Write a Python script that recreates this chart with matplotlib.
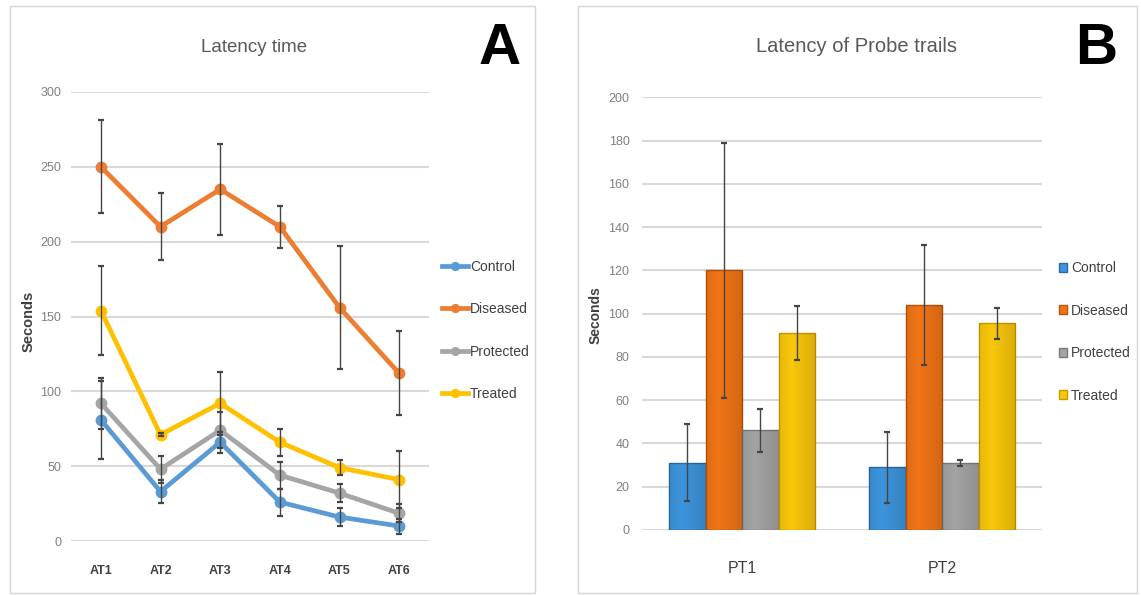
import numpy as np
import matplotlib
matplotlib.use("Agg")
import matplotlib.pyplot as plt
import matplotlib.font_manager as fm
from matplotlib.patches import Rectangle
from matplotlib.patches import Patch

# ---------------- data ----------------
series = ["Control", "Diseased", "Protected", "Treated"]

a_categories = ["AT1", "AT2", "AT3", "AT4", "AT5", "AT6"]
a_control = [81, 33, 66, 26, 16, 10]
a_control_err = [26, 7.5, 7, 9, 6, 5]
a_diseased = [250, 210, 235, 210, 156, 112]
a_diseased_err = [31, 22.5, 30.5, 14, 41, 28]
a_protected = [92, 48, 74, 44, 32, 18.5]
a_protected_err = [17, 9, 12, 9, 6, 6]
a_treated = [154, 71, 92, 66, 49, 41]
a_treated_err = [30, 1, 21, 9, 5, 19]

b_categories = ["PT1", "PT2"]
b_control = [31, 29]
b_control_err = [17.8, 16.5]
b_diseased = [120, 104]
b_diseased_err = [59, 27.7]
b_protected = [46, 31]
b_protected_err = [10, 1.5]
b_treated = [91, 95.5]
b_treated_err = [12.5, 7]

a_yticks = [0, 50, 100, 150, 200, 250, 300]
b_yticks = list(range(0, 201, 20))

# ---------------- fonts ----------------
names = {f.name for f in fm.fontManager.ttflist}
NARROW = "Liberation Sans Narrow" if "Liberation Sans Narrow" in names else "Liberation Sans"
plt.rcParams["font.family"] = [NARROW, "DejaVu Sans"]

W, H = 1141, 596
fig = plt.figure(figsize=(W / 100, H / 100), dpi=100)
fig.patch.set_facecolor("white")

def fx(px):
    return px / W

def fy(py):
    return 1 - py / H

# panel borders
for x0, x1 in [(10, 535), (578, 1137)]:
    fig.patches.append(Rectangle((fx(x0), fy(593)), fx(x1 - x0), (593 - 6) / H,
                                 transform=fig.transFigure, fill=False,
                                 edgecolor="#d4d4d4", linewidth=1.0))

line_colors = ["#5b9bd5", "#ed7d31", "#a5a5a5", "#ffc000"]
bar_colors = ["#3d94dc", "#f07416", "#a3a3a3", "#f8c60a"]
bar_edges = ["#2a6aa8", "#b9540c", "#7a7a7a", "#c99a00"]
err_color = "#454545"
grid_color = "#d9d9d9"
tick_gray = "#808080"
label_dark = "#404040"

# ---------------- panel A ----------------
axA = fig.add_axes([fx(71), fy(541), fx(429 - 71), (541 - 92) / H])
xA = np.arange(len(a_categories))
a_vals = [a_control, a_diseased, a_protected, a_treated]
a_errs = [a_control_err, a_diseased_err, a_protected_err, a_treated_err]
for i, (v, e) in enumerate(zip(a_vals, a_errs)):
    axA.plot(xA, v, "-o", color=line_colors[i], lw=3.4, ms=7.5, zorder=3 + i * 0.1,
             clip_on=False, label=series[i])
for i, (v, e) in enumerate(zip(a_vals, a_errs)):
    axA.errorbar(xA, v, yerr=e, fmt="none", ecolor=err_color, elinewidth=1.0,
                 capsize=2.2, capthick=1.6, zorder=5, clip_on=False)
axA.set_xlim(-0.5, len(a_categories) - 0.5)
axA.set_ylim(0, 300)
axA.set_yticks(a_yticks)
axA.set_xticks(xA)
axA.set_xticklabels(a_categories, fontsize=9, color=label_dark, fontweight="bold")
axA.tick_params(axis="y", length=0, pad=7, labelsize=9, labelcolor=tick_gray)
axA.tick_params(axis="x", length=0, pad=17)
axA.yaxis.grid(True, color=grid_color, lw=1.5)
axA.set_axisbelow(True)
for s in axA.spines.values():
    s.set_visible(False)
axA.set_ylabel("Seconds", fontsize=10.5, fontweight="bold", color=label_dark,
               family=["Liberation Sans", "DejaVu Sans"])
axA.yaxis.set_label_coords(-0.1, 0.49)
axA.legend(loc="center left", bbox_to_anchor=(fx(442), fy(330.5)),
           bbox_transform=fig.transFigure, frameon=False, fontsize=10,
           handlelength=1.9, handletextpad=0.1, labelspacing=2.05,
           borderpad=0, borderaxespad=0, markerscale=0.75, labelcolor=label_dark)

fig.text(fx(254), fy(47), "Latency time", ha="center", va="center", fontsize=13.5,
         color="#595959")
fig.text(fx(500), fy(49), "A", ha="center", va="center", fontsize=42,
         fontweight="bold", color="black")

# ---------------- panel B ----------------
axB = fig.add_axes([fx(642), fy(530), fx(400), (530 - 97.3) / H])
xB = np.arange(len(b_categories))
b_vals = [b_control, b_diseased, b_protected, b_treated]
b_errs = [b_control_err, b_diseased_err, b_protected_err, b_treated_err]
bw = 0.1825
offsets = (np.arange(4) - 1.5) * bw
for i, (v, e) in enumerate(zip(b_vals, b_errs)):
    bars = axB.bar(xB + offsets[i], v, width=bw, color=bar_colors[i],
                   edgecolor=bar_edges[i], linewidth=1.0, zorder=2, label=series[i])
    # subtle horizontal shading on each bar
    for b in bars:
        x0, y0 = b.get_x(), b.get_y()
        grad = np.linspace(0, 1, 64)
        shade = 1 - 0.35 * np.abs(grad - 0.35) / 0.65
        img = np.ones((1, 64, 4))
        img[..., :3] = 0
        img[..., 3] = (1 - shade) * 0.35
        im = axB.imshow(img, extent=[x0, x0 + b.get_width(), y0, y0 + b.get_height()],
                        aspect="auto", zorder=2.5, interpolation="bilinear")
        im.set_clip_path(b)
    axB.errorbar(xB + offsets[i], v, yerr=e, fmt="none", ecolor=err_color,
                 elinewidth=1.0, capsize=2.2, capthick=1.6, zorder=5)
axB.set_xlim(-0.5, len(b_categories) - 0.5)
axB.set_ylim(0, 200)
axB.set_yticks(b_yticks)
axB.set_xticks(xB)
axB.set_xticklabels(b_categories, fontsize=11.5, color=label_dark)
axB.tick_params(axis="y", length=0, pad=9, labelsize=9, labelcolor=tick_gray)
axB.tick_params(axis="x", length=0, pad=22)
axB.yaxis.grid(True, color=grid_color, lw=1.5)
axB.set_axisbelow(True)
for s in axB.spines.values():
    s.set_visible(False)
axB.set_ylabel("Seconds", fontsize=10, fontweight="bold", color=label_dark,
               family=["Liberation Sans", "DejaVu Sans"])
axB.yaxis.set_label_coords(-0.0975, 0.497)
handles = [Patch(facecolor=bar_colors[i], edgecolor=bar_edges[i], lw=1.0) for i in range(4)]
axB.legend(handles, series, loc="center left", bbox_to_anchor=(fx(1059), fy(332)),
           bbox_transform=fig.transFigure, frameon=False, fontsize=10,
           handlelength=0.6, handleheight=0.6, handletextpad=0.25, labelspacing=2.05,
           borderpad=0, borderaxespad=0, labelcolor=label_dark)

fig.text(fx(857), fy(47), "Latency of Probe trails", ha="center", va="center",
         fontsize=14.5, color="#595959")
fig.text(fx(1096), fy(49), "B", ha="center", va="center", fontsize=42,
         fontweight="bold", color="black")

fig.savefig("out.png", dpi=100, facecolor="white")
